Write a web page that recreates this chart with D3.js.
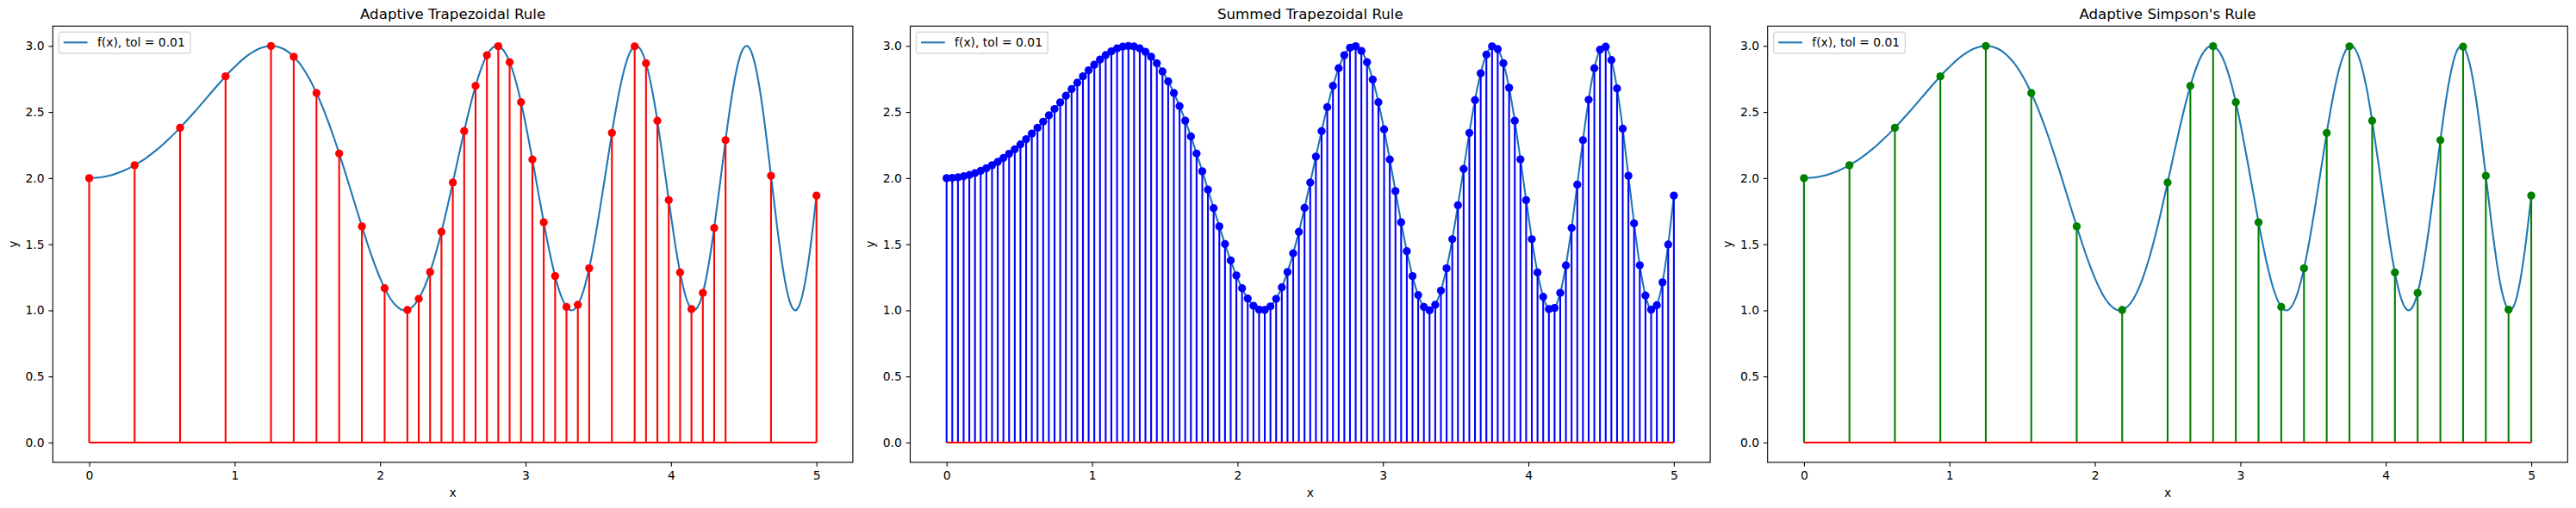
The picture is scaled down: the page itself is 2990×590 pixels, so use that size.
<!DOCTYPE html>
<html>
<head>
<meta charset="utf-8">
<script src="https://cdn.jsdelivr.net/npm/d3@7"></script>
<style>
  body { margin: 0; background: #fff; }
  svg { display: block; font-family: 'DejaVu Sans', sans-serif; }
</style>
</head>
<body>
<svg></svg>
<script>
// sample points

let titles = ['Adaptive Trapezoidal Rule', 'Summed Trapezoidal Rule', "Adaptive Simpson's Rule"]
let legendLabel = 'f(x), tol = 0.01'
let xTicks = [0, 1, 2, 3, 4, 5]
let yTicks = [0, 0.5, 1, 1.5, 2, 2.5, 3]

// adaptive trapezoidal nodes
let adaptX = [0, 0.3125, 0.625, 0.9375, 1.25, 1.40625, 1.5625, 1.71875, 1.875, 2.03125,
  2.1875, 2.265625, 2.34375, 2.421875, 2.5, 2.578125, 2.65625, 2.734375, 2.8125, 2.890625,
  2.96875, 3.046875, 3.125, 3.203125, 3.28125, 3.359375, 3.4375, 3.59375, 3.75, 3.828125,
  3.90625, 3.984375, 4.0625, 4.140625, 4.21875, 4.296875, 4.375, 4.6875, 5]
let adaptY = [2.000, 2.098, 2.381, 2.770, 3.000, 2.918, 2.644, 2.186, 1.635, 1.167,
  1.003, 1.087, 1.290, 1.594, 1.967, 2.356, 2.698, 2.930, 2.998, 2.877,
  2.574, 2.141, 1.666, 1.259, 1.026, 1.042, 1.318, 2.342, 2.997, 2.869,
  2.434, 1.834, 1.286, 1.009, 1.132, 1.623, 2.287, 2.018, 1.868]

// summed trapezoidal: 128 equal intervals on [0, 5]
let sumN = 128
let sumY = [
  2.000, 2.002, 2.006, 2.014, 2.024, 2.038, 2.055, 2.075, 2.098, 2.123,
  2.152, 2.184, 2.218, 2.255, 2.295, 2.337, 2.381, 2.427, 2.475, 2.523,
  2.573, 2.623, 2.673, 2.722, 2.770, 2.816, 2.858, 2.897, 2.931, 2.959,
  2.981, 2.994, 3.000, 2.996, 2.981, 2.956, 2.918, 2.869, 2.807, 2.732,
  2.644, 2.545, 2.435, 2.315, 2.186, 2.052, 1.913, 1.773, 1.635, 1.501,
  1.377, 1.264, 1.167, 1.089, 1.035, 1.005, 1.003, 1.030, 1.087, 1.174,
  1.290, 1.431, 1.594, 1.775, 1.967, 2.163, 2.356, 2.537, 2.698, 2.831,
  2.930, 2.987, 2.998, 2.962, 2.877, 2.746, 2.574, 2.369, 2.141, 1.902,
  1.666, 1.447, 1.259, 1.115, 1.026, 1.000, 1.042, 1.149, 1.318, 1.538,
  1.795, 2.069, 2.342, 2.590, 2.793, 2.934, 2.997, 2.976, 2.869, 2.684,
  2.434, 2.142, 1.834, 1.538, 1.286, 1.102, 1.009, 1.018, 1.132, 1.340,
  1.623, 1.951, 2.287, 2.593, 2.831, 2.971, 2.994, 2.893, 2.678, 2.374,
  2.018, 1.658, 1.341, 1.112, 1.005, 1.039, 1.212, 1.498, 1.868]
let sumX = sumY.map((d, i) => i * 5 / sumN)

// adaptive simpson nodes
let simpX = [0, 0.3125, 0.625, 0.9375, 1.25, 1.5625, 1.875, 2.1875, 2.5, 2.65625,
  2.8125, 2.96875, 3.125, 3.28125, 3.4375, 3.59375, 3.75, 3.90625, 4.0625, 4.21875,
  4.375, 4.53125, 4.6875, 4.84375, 5]
let simpY = [2.000, 2.098, 2.381, 2.770, 3.000, 2.644, 1.635, 1.003, 1.967, 2.698,
  2.998, 2.574, 1.666, 1.026, 1.318, 2.342, 2.997, 2.434, 1.286, 1.132,
  2.287, 2.994, 2.018, 1.005, 1.868]

// f(x) curve drawn through the dense sample set
let curveX = sumX
let curveY = sumY

let W = 2990, H = 590
let svg = d3.select('svg').attr('width', W).attr('height', H)

let lefts = [61.3, 1056.5, 2051.7]
let plotTop = 30.3, pw = 928.6, ph = 506.7
let pt = 100 / 72 // px per point at 100 dpi

function drawPanel(left, title, xs, ys, color) {
  let x = d3.scaleLinear().domain([-0.25, 5.25]).range([left, left + pw])
  let y = d3.scaleLinear().domain([-0.15, 3.15]).range([plotTop + ph, plotTop])
  let g = svg.append('g')

  // function curve
  let line = d3.line()
    .x(d => x(d[0]))
    .y(d => y(d[1]))
    .curve(d3.curveNatural)
  g.append('path')
    .attr('d', line(curveX.map((d, i) => [d, curveY[i]])))
    .attr('fill', 'none')
    .attr('stroke', '#1f77b4')
    .attr('stroke-width', 1.5 * pt)

  // stems
  g.selectAll('line.stem')
    .data(xs)
    .enter().append('line')
    .attr('class', 'stem')
    .attr('x1', d => x(d)).attr('x2', d => x(d))
    .attr('y1', y(0))
    .attr('y2', (d, i) => y(ys[i]))
    .attr('stroke', color)
    .attr('stroke-width', 1.5 * pt)

  // baseline
  g.append('line')
    .attr('x1', x(d3.min(xs))).attr('x2', x(d3.max(xs)))
    .attr('y1', y(0)).attr('y2', y(0))
    .attr('stroke', 'red')
    .attr('stroke-width', 1.5 * pt)

  // markers
  g.selectAll('circle')
    .data(xs)
    .enter().append('circle')
    .attr('cx', d => x(d))
    .attr('cy', (d, i) => y(ys[i]))
    .attr('r', 3 * pt + 0.5)
    .attr('fill', color)

  // axes
  let xAxis = g.append('g')
    .attr('transform', 'translate(0,' + (plotTop + ph) + ')')
    .call(d3.axisBottom(x).tickValues(xTicks).tickFormat(d3.format('d'))
      .tickSize(3.5 * pt).tickPadding(3.5 * pt))
  let yAxis = g.append('g')
    .attr('transform', 'translate(' + left + ',0)')
    .call(d3.axisLeft(y).tickValues(yTicks).tickFormat(d3.format('.1f'))
      .tickSize(3.5 * pt).tickPadding(3.5 * pt))
  ;[xAxis, yAxis].forEach(a => {
    a.select('.domain').remove()
    a.selectAll('line').attr('stroke', '#000').attr('stroke-width', 0.8 * pt)
    a.selectAll('text')
      .attr('fill', '#000')
      .style('font-family', "'DejaVu Sans', sans-serif")
      .style('font-size', (10 * pt) + 'px')
  })

  // frame
  g.append('rect')
    .attr('x', left).attr('y', plotTop)
    .attr('width', pw).attr('height', ph)
    .attr('fill', 'none')
    .attr('stroke', '#000')
    .attr('stroke-width', 0.8 * pt)

  // title and labels
  g.append('text')
    .attr('x', left + pw / 2).attr('y', 22)
    .attr('text-anchor', 'middle')
    .style('font-size', (12 * pt) + 'px')
    .text(title)
  g.append('text')
    .attr('x', left + pw / 2).attr('y', 577)
    .attr('text-anchor', 'middle')
    .style('font-size', (10 * pt) + 'px')
    .text('x')
  g.append('text')
    .attr('transform', 'translate(' + (left - 41.7) + ',' + (plotTop + ph / 2) + ') rotate(-90)')
    .attr('text-anchor', 'middle')
    .style('font-size', (10 * pt) + 'px')
    .text('y')

  // legend
  let lg = g.append('g').attr('transform', 'translate(' + (left + 7) + ',37.3)')
  lg.append('rect')
    .attr('width', 152.7).attr('height', 24.7)
    .attr('rx', 2.8).attr('ry', 2.8)
    .attr('fill', 'rgba(255,255,255,0.8)')
    .attr('stroke', '#d6d6d6')
    .attr('stroke-width', 1.4)
  lg.append('line')
    .attr('x1', 5.5).attr('x2', 33.3)
    .attr('y1', 12).attr('y2', 12)
    .attr('stroke', '#1f77b4')
    .attr('stroke-width', 1.5 * pt)
  lg.append('text')
    .attr('x', 44.6).attr('y', 17)
    .style('font-size', (10 * pt) + 'px')
    .text(legendLabel)
}

drawPanel(lefts[0], titles[0], adaptX, adaptY, 'red')
drawPanel(lefts[1], titles[1], sumX, sumY, 'blue')
drawPanel(lefts[2], titles[2], simpX, simpY, 'green')
</script>
</body>
</html>
